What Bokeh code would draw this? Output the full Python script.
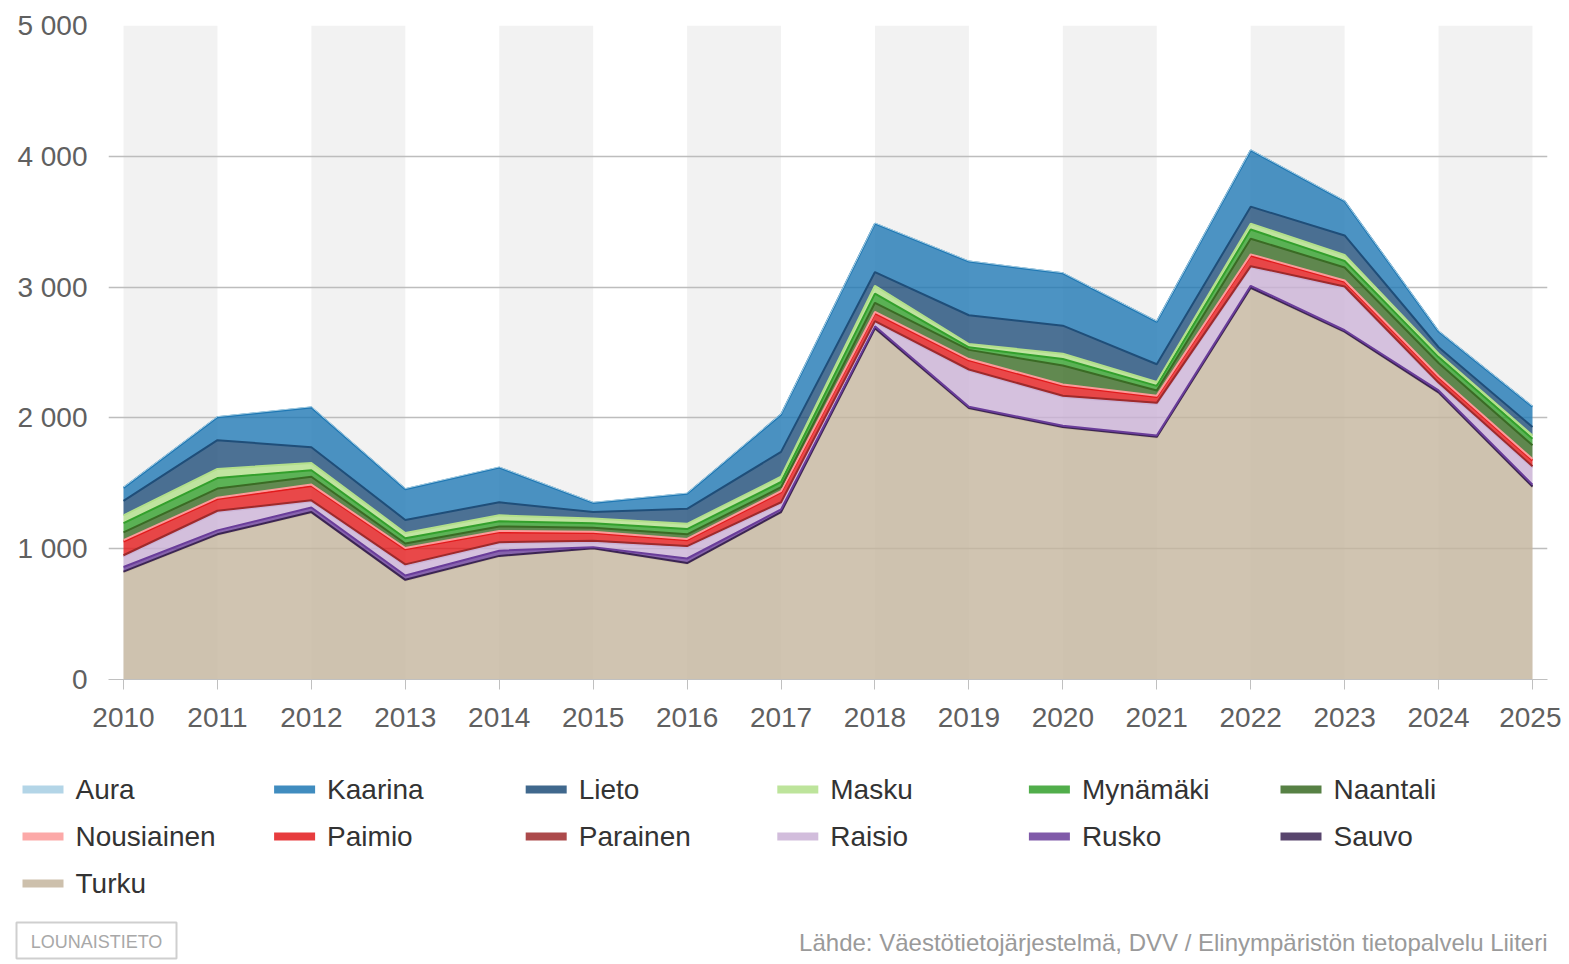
import numpy as np
from bokeh.plotting import figure
from bokeh.models import Range1d, FixedTicker
from bokeh.layouts import column
from bokeh.core.properties import value
from bokeh.embed import file_html
from bokeh.resources import INLINE

# ---------------- data ----------------
years = [2010, 2011, 2012, 2013, 2014, 2015, 2016, 2017,
         2018, 2019, 2020, 2021, 2022, 2023, 2024, 2025]

aura       = [5, 5, 5, 5, 5, 5, 5, 5, 5, 5, 5, 5, 5, 5, 5, 5]
kaarina    = [100, 175, 305, 235, 265, 70, 115, 285, 370, 410, 400, 325, 430, 260, 120, 155]
lieto      = [110, 220, 120, 100, 100, 50, 115, 190, 105, 220, 215, 135, 130, 150, 50, 65]
masku      = [60, 70, 55, 40, 45, 35, 40, 40, 60, 25, 40, 30, 45, 45, 25, 25]
mynamaki   = [70, 80, 50, 40, 40, 35, 40, 40, 70, 20, 50, 35, 70, 50, 45, 50]
naantali   = [60, 70, 60, 35, 35, 30, 35, 30, 70, 70, 145, 40, 120, 100, 100, 105]
nousiainen = [10, 10, 10, 10, 10, 10, 10, 10, 10, 10, 10, 10, 10, 10, 10, 10]
paimio     = [105, 90, 110, 115, 75, 60, 45, 75, 60, 70, 75, 45, 80, 35, 40, 45]
parainen   = [10, 10, 10, 10, 10, 10, 10, 10, 10, 10, 10, 10, 10, 10, 10, 10]
raisio     = [80, 140, 45, 75, 55, 38, 85, 45, 30, 275, 220, 240, 140, 325, 50, 130]
rusko      = [35, 30, 35, 33, 40, 8, 35, 20, 15, 10, 10, 10, 15, 10, 15, 15]
sauvo      = [5, 5, 5, 5, 5, 4, 5, 5, 5, 5, 5, 5, 5, 5, 5, 5]
turku      = [820, 1105, 1275, 757, 940, 1000, 885, 1275, 2680, 2070, 1925, 1850, 2990, 2655, 2190, 1470]

names = ["Aura", "Kaarina", "Lieto", "Masku", "Mynämäki", "Naantali",
         "Nousiainen", "Paimio", "Parainen", "Raisio", "Rusko", "Sauvo", "Turku"]
series = [aura, kaarina, lieto, masku, mynamaki, naantali,
          nousiainen, paimio, parainen, raisio, rusko, sauvo, turku]
colors = ["#a6cee3", "#1f78b4", "#1f4e79", "#b2df8a", "#33a02c", "#3a6b24",
          "#fb9a99", "#e31a1c", "#9e2a2b", "#cab2d6", "#6a3d9a", "#3b2454", "#c4b59d"]

y_ticks = [0, 1000, 2000, 3000, 4000, 5000]
y_tick_labels = ["0", "1 000", "2 000", "3 000", "4 000", "5 000"]

source_text = "Lähde: Väestötietojärjestelmä, DVV / Elinympäristön tietopalvelu Liiteri"
logo_text = "LOUNAISTIETO"

FONT = "Liberation Sans"

# ---------------- main chart ----------------
W = 1561
H1 = 745
pad = 15 / 93.9
p = figure(width=W, height=H1, x_range=Range1d(years[0] - pad, years[-1] + pad),
           y_range=Range1d(0, 5000), toolbar_location=None, output_backend="svg",
           min_border_left=108, min_border_right=14, min_border_top=25,
           min_border_bottom=66)
p.frame_align = False
p.outline_line_color = None
p.background_fill_color = "white"

# alternate column bands
band_left = years[0::2]
band_right = [y + 1 for y in band_left]
bands = p.quad(left=band_left, right=band_right, bottom=0, top=5000,
               fill_color="#f2f2f2", line_color=None)
bands.level = "image"

# stacked areas: first series on top => stack in reverse order
order = list(range(len(names)))[::-1]
data = {"x": years}
for i in order:
    data[names[i]] = series[i]
p.varea_stack(stackers=[names[i] for i in order], x="x", source=data,
              color=[colors[i] for i in order], fill_alpha=0.8)

cum = np.zeros(len(years))
for i in order:
    cum = cum + np.array(series[i])
    p.line(years, cum.tolist(), line_color=colors[i],
           line_width=1 if names[i] == "Aura" else 2)

# axes
p.xaxis.ticker = FixedTicker(ticks=years)
p.xaxis.axis_line_color = "#c0c0c0"
p.xaxis.major_tick_line_color = "#c0c0c0"
p.xaxis.major_tick_out = 10
p.xaxis.major_tick_in = 0
p.xaxis.minor_tick_line_color = None
p.xaxis.major_label_standoff = 18
p.xaxis.major_label_text_font = FONT
p.xaxis.major_label_text_font_size = "28px"
p.xaxis.major_label_text_color = "#606060"

p.yaxis.ticker = FixedTicker(ticks=y_ticks)
p.yaxis.major_label_overrides = {t: l for t, l in zip(y_ticks, y_tick_labels)}
p.yaxis.axis_line_color = None
p.yaxis.major_tick_line_color = None
p.yaxis.minor_tick_line_color = None
p.yaxis.major_tick_out = 0
p.yaxis.major_tick_in = 0
p.yaxis.major_label_standoff = 21
p.yaxis.major_label_text_font = FONT
p.yaxis.major_label_text_font_size = "28px"
p.yaxis.major_label_text_color = "#606060"

p.xgrid.grid_line_color = None
p.ygrid.grid_line_color = "#bdbdbd"
p.ygrid.grid_line_width = 1.5

# ---------------- legend & footer ----------------
H2 = 960 - H1
leg = figure(width=W, height=H2, x_range=Range1d(0, W), y_range=Range1d(H2, 0),
             toolbar_location=None, output_backend="svg", min_border=0,
             x_axis_location=None, y_axis_location=None)
leg.frame_align = False
leg.outline_line_color = None
leg.grid.visible = False

ncol = 6
col_w = 251.6
lx = [22 + (i % ncol) * col_w for i in range(len(names))]
ly = [44 + (i // ncol) * 47 for i in range(len(names))]
leg.quad(left=lx, right=[x + 41 for x in lx], top=[y - 4 for y in ly],
         bottom=[y + 4 for y in ly], fill_color=colors, fill_alpha=0.85,
         line_color=None)
leg.text(x=[x + 53 for x in lx], y=ly, text=names, text_baseline="middle",
         text_align="left", text_font=value(FONT), text_font_size="28px",
         text_color="#333333")

# logo
leg.rect(x=[96], y=[195], width=[160], height=[36], fill_color=None,
         line_color="#cfcfcf", line_width=2)
leg.text(x=[96], y=[196], text=[logo_text], text_align="center",
         text_baseline="middle", text_font=value(FONT),
         text_font_size="18px", text_color="#a8a8a8")

leg.text(x=[1547], y=[197], text=[source_text], text_align="right",
         text_baseline="middle", text_font=value(FONT), text_font_size="24px",
         text_color="#9a9a9a")

layout = column(p, leg, spacing=0)
open("out.html", "w").write(file_html(layout, INLINE))
